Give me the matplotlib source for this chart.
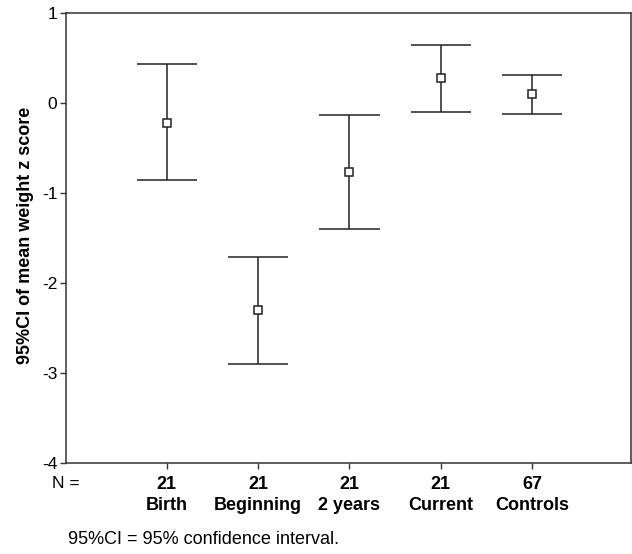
import numpy as np
import matplotlib.pyplot as plt

# ── values ────────────────────────────────────────────────────────────────────
groups = ["Birth", "Beginning", "2 years", "Current", "Controls"]
n_counts = [21, 21, 21, 21, 67]
means = [-0.22, -2.30, -0.77, 0.27, 0.10]
ci_upper = [0.43, -1.71, -0.14, 0.64, 0.31]
ci_lower = [-0.86, -2.90, -1.40, -0.10, -0.12]
y_ticks = [1, 0, -1, -2, -3, -4]

LINE = "#222222"
CAP_HALF = 0.33

plt.rcParams["font.family"] = ["Liberation Sans", "DejaVu Sans"]

fig = plt.figure(figsize=(6.32, 5.54), dpi=100)
ax = fig.add_axes([0.104, 0.165, 0.894, 0.812])

x = np.arange(1, len(groups) + 1)
ax.vlines(x, ci_lower, ci_upper, color=LINE, linewidth=1.1, zorder=2)
ax.hlines(ci_upper, x - CAP_HALF, x + CAP_HALF, color=LINE, linewidth=1.1, zorder=2)
ax.hlines(ci_lower, x - CAP_HALF, x + CAP_HALF, color=LINE, linewidth=1.1, zorder=2)
ax.plot(x, means, linestyle="none", marker="s", markersize=5.5,
        markerfacecolor="white", markeredgecolor=LINE, markeredgewidth=1.1, zorder=3)

ax.set_xlim(-0.105, 6.08)
ax.set_ylim(-4, 1)
ax.set_yticks(y_ticks)
ax.set_yticklabels([str(t) for t in y_ticks], fontsize=12.5)
ax.set_xticks(x)
ax.set_xticklabels([f"{n}\n{g}" for n, g in zip(n_counts, groups)],
                   fontsize=13, fontweight="bold", linespacing=1.3)

for s in ax.spines.values():
    s.set_color("#333333")
    s.set_linewidth(1.1)
ax.tick_params(axis="both", direction="out", length=4, width=1, color="#333333")
ax.tick_params(axis="x", pad=6)
ax.tick_params(axis="y", pad=2)

fig.text(25.5 / 632, 1 - 235 / 554, "95%CI of mean weight z score", rotation=90,
         ha="center", va="center", fontsize=13, fontweight="bold")
fig.text(52 / 632, 1 - 483 / 554, "N =", ha="left", va="center", fontsize=12.5)
fig.text(68 / 632, 1 - 540 / 554, "95%CI = 95% confidence interval.",
         ha="left", va="center", fontsize=13)

fig.savefig("out.png", dpi=100)
